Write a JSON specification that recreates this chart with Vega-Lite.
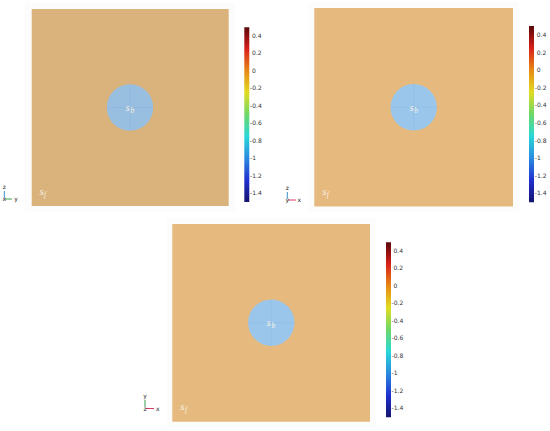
{"$schema":"https://vega.github.io/schema/vega-lite/v6.json","width":550,"height":431,"padding":0,"autosize":{"type":"none"},"background":"white","config":{"view":{"stroke":null}},"resolve":{"scale":{"color":"independent"}},
"layer":[
{"data":{"values":[{"x":25,"x2":235,"y":3,"y2":212,"c":"frame"},{"x":308,"x2":519,"y":2,"y2":212,"c":"frame"},{"x":167,"x2":376,"y":218,"y2":427,"c":"frame"},{"x":31.7,"x2":228.7,"y":9,"y2":206,"c":"dark"},{"x":314.3,"x2":513,"y":8,"y2":206.5,"c":"light"},{"x":172.3,"x2":370,"y":224,"y2":421.7,"c":"light"}]},
"mark":{"type":"rect"},
"encoding":{"x":{"field":"x","type":"quantitative","scale":{"domain":[0,550],"nice":false,"zero":false},"axis":null},"x2":{"field":"x2"},"y":{"field":"y","type":"quantitative","scale":{"domain":[431,0],"nice":false,"zero":false},"axis":null},"y2":{"field":"y2"},"color":{"field":"c","type":"nominal","legend":null,"scale":{"domain":["frame","dark","light"],"range":["#FCFCFC","#DAB37C","#E6BA7E"]}}}},
{"data":{"values":[{"x":244.3,"x2":249.3,"y":27.3,"y2":202},{"x":529,"x2":534,"y":26,"y2":202.3},{"x":386,"x2":391,"y":242.3,"y2":417.3}]},
"mark":{"type":"rect","fill":{"gradient":"linear","x1":0,"y1":0,"x2":0,"y2":1,"stops":[{"offset":0,"color":"#5A0A0A"},{"offset":0.05,"color":"#8E0F0F"},{"offset":0.125,"color":"#D8201A"},{"offset":0.25,"color":"#E88A14"},{"offset":0.375,"color":"#E2DC20"},{"offset":0.5,"color":"#6CD868"},{"offset":0.625,"color":"#28D8D8"},{"offset":0.75,"color":"#2A8AE0"},{"offset":0.875,"color":"#2030D0"},{"offset":1,"color":"#14146E"}]}},
"encoding":{"x":{"field":"x","type":"quantitative"},"x2":{"field":"x2"},"y":{"field":"y","type":"quantitative"},"y2":{"field":"y2"}}},
{"data":{"values":[{"x":130,"y":107.5,"c":"dark"},{"x":413.7,"y":107.3,"c":"light"},{"x":271.3,"y":322.7,"c":"light"}]},
"mark":{"type":"point","filled":true,"opacity":1,"size":2153},
"encoding":{"x":{"field":"x","type":"quantitative"},"y":{"field":"y","type":"quantitative"},"color":{"field":"c","type":"nominal","legend":null,"scale":{"domain":["dark","light"],"range":["#98BEE0","#9AC6EC"]}}}},
{"data":{"values":[{"x":107,"x2":153,"y":107.5,"y2":107.5},{"x":130,"x2":130,"y":84.5,"y2":130.5},{"x":390.7,"x2":436.7,"y":107.3,"y2":107.3},{"x":413.7,"x2":413.7,"y":84.3,"y2":130.3},{"x":248.3,"x2":294.3,"y":322.7,"y2":322.7},{"x":271.3,"x2":271.3,"y":299.7,"y2":345.7}]},
"mark":{"type":"rule","stroke":"#7FA6CC","strokeOpacity":0.35,"strokeWidth":0.6},
"encoding":{"x":{"field":"x","type":"quantitative"},"x2":{"field":"x2"},"y":{"field":"y","type":"quantitative"},"y2":{"field":"y2"}}},
{"data":{"values":[{"x":4.3,"x2":4.3,"y":191,"y2":198,"a":"b"},{"x":5,"x2":12,"y":199,"y2":199,"a":"g"},{"x":287.3,"x2":287.3,"y":192,"y2":199,"a":"b"},{"x":288,"x2":296,"y":200,"y2":200,"a":"r"},{"x":145,"x2":145,"y":400,"y2":407,"a":"g"},{"x":146,"x2":154,"y":408.5,"y2":408.5,"a":"r"}]},
"mark":{"type":"rule","strokeWidth":1},
"encoding":{"x":{"field":"x","type":"quantitative"},"x2":{"field":"x2"},"y":{"field":"y","type":"quantitative"},"y2":{"field":"y2"},"color":{"field":"a","type":"nominal","legend":null,"scale":{"domain":["b","g","r"],"range":["#3C8CC8","#3CA050","#D83C64"]}}}},
{"data":{"values":[{"x":4.3,"y":187,"t":"z"},{"x":4.3,"y":199,"t":"x"},{"x":16,"y":199,"t":"y"},{"x":287.3,"y":188,"t":"z"},{"x":287.3,"y":200,"t":"y"},{"x":299.3,"y":200,"t":"x"},{"x":145,"y":396,"t":"y"},{"x":145,"y":408.5,"t":"z"},{"x":157.7,"y":408.5,"t":"x"}]},
"mark":{"type":"text","font":"DejaVu Sans","fontSize":6,"color":"#222222","align":"center","baseline":"middle"},
"encoding":{"x":{"field":"x","type":"quantitative"},"y":{"field":"y","type":"quantitative"},"text":{"field":"t"}}},
{"data":{"values":[{"x":252,"y":35.7,"t":"0.4"},{"x":252,"y":53.2,"t":"0.2"},{"x":252,"y":70.7,"t":"0"},{"x":250,"y":88.2,"t":"-0.2"},{"x":250,"y":105.7,"t":"-0.4"},{"x":250,"y":123.2,"t":"-0.6"},{"x":250,"y":140.7,"t":"-0.8"},{"x":250,"y":158.2,"t":"-1"},{"x":250,"y":175.7,"t":"-1.2"},{"x":250,"y":193.3,"t":"-1.4"},
{"x":536.8,"y":35,"t":"0.4"},{"x":536.8,"y":52.6,"t":"0.2"},{"x":536.8,"y":70.2,"t":"0"},{"x":534.8,"y":87.8,"t":"-0.2"},{"x":534.8,"y":105.4,"t":"-0.4"},{"x":534.8,"y":123,"t":"-0.6"},{"x":534.8,"y":140.6,"t":"-0.8"},{"x":534.8,"y":158.2,"t":"-1"},{"x":534.8,"y":175.8,"t":"-1.2"},{"x":534.8,"y":193.4,"t":"-1.4"},
{"x":393.5,"y":250.7,"t":"0.4"},{"x":393.5,"y":268.2,"t":"0.2"},{"x":393.5,"y":285.7,"t":"0"},{"x":391.5,"y":303.2,"t":"-0.2"},{"x":391.5,"y":320.7,"t":"-0.4"},{"x":391.5,"y":338.2,"t":"-0.6"},{"x":391.5,"y":355.7,"t":"-0.8"},{"x":391.5,"y":373.2,"t":"-1"},{"x":391.5,"y":390.7,"t":"-1.2"},{"x":391.5,"y":408.3,"t":"-1.4"}]},
"mark":{"type":"text","font":"DejaVu Sans","fontSize":6,"color":"#333333","align":"left","baseline":"middle"},
"encoding":{"x":{"field":"x","type":"quantitative"},"y":{"field":"y","type":"quantitative"},"text":{"field":"t"}}},
{"data":{"values":[{"x":127.7,"y":108,"t":"s"},{"x":41.7,"y":191.7,"t":"s"},{"x":411.7,"y":108,"t":"s"},{"x":324.3,"y":192,"t":"s"},{"x":268.7,"y":323,"t":"s"},{"x":182.3,"y":407,"t":"s"}]},
"mark":{"type":"text","font":"Liberation Serif","fontStyle":"italic","fontSize":11,"color":"#F6F1E6","align":"center","baseline":"middle"},
"encoding":{"x":{"field":"x","type":"quantitative"},"y":{"field":"y","type":"quantitative"},"text":{"field":"t"}}},
{"data":{"values":[{"x":132.3,"y":110.7,"t":"b"},{"x":45,"y":195,"t":"f"},{"x":416,"y":111,"t":"b"},{"x":327.7,"y":195,"t":"f"},{"x":273.3,"y":326,"t":"b"},{"x":186,"y":410,"t":"f"}]},
"mark":{"type":"text","font":"Liberation Serif","fontStyle":"italic","fontSize":7.5,"color":"#F6F1E6","align":"center","baseline":"middle"},
"encoding":{"x":{"field":"x","type":"quantitative"},"y":{"field":"y","type":"quantitative"},"text":{"field":"t"}}}
]}
